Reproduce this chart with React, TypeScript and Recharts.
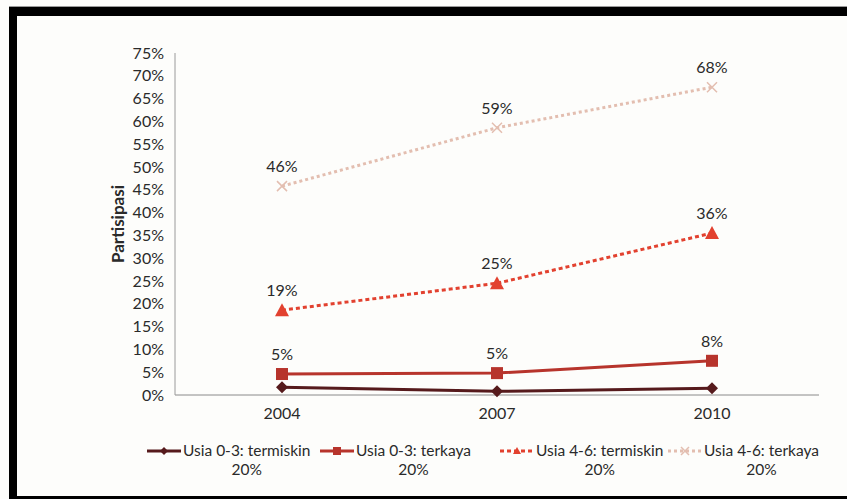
import React from "react";
import { LineChart, Line, XAxis, YAxis, LabelList, Label } from "recharts";

const years = ["2004", "2007", "2010"];
const termiskin03 = [1.7, 0.8, 1.5];
const terkaya03 = [4.6, 4.8, 7.5];
const termiskin46 = [18.6, 24.5, 35.5];
const terkaya46 = [45.8, 58.6, 67.5];
const yTicks = [0, 5, 10, 15, 20, 25, 30, 35, 40, 45, 50, 55, 60, 65, 70, 75];
const seriesNames = [
  "Usia 0-3: termiskin 20%",
  "Usia 0-3: terkaya 20%",
  "Usia 4-6: termiskin 20%",
  "Usia 4-6: terkaya 20%",
];

const data = years.map((y, i) => ({
  year: y,
  a: termiskin03[i],
  b: terkaya03[i],
  c: termiskin46[i],
  d: terkaya46[i],
}));

const FONT = "Lato, 'Open Sans', sans-serif";

const colors = ["#561a1c", "#b7342c", "#e2412f", "#e3beb0"];

const Diamond = ({ cx, cy, fill, s = 6 }: any) => (
  <path d={`M${cx},${cy - s} L${cx + s},${cy} L${cx},${cy + s} L${cx - s},${cy} Z`} fill={fill} />
);
const Square = ({ cx, cy, fill, s = 6 }: any) => <rect x={cx - s} y={cy - s} width={2 * s} height={2 * s} fill={fill} />;
const Triangle = ({ cx, cy, fill, s = 7 }: any) => (
  <path d={`M${cx},${cy - s} L${cx + s},${cy + s - 1} L${cx - s},${cy + s - 1} Z`} fill={fill} />
);
const Cross = ({ cx, cy, fill, s = 5 }: any) => (
  <path d={`M${cx - s},${cy - s} L${cx + s},${cy + s} M${cx + s},${cy - s} L${cx - s},${cy + s}`} stroke={fill} strokeWidth={1.5} />
);

const markers = [Diamond, Square, Triangle, Cross];
const dashes = [undefined, undefined, "4 3", "3 3"];
const legendLefts = [147, 320, 500, 668];

const pct = (v: any) => `${Math.round(Number(v))}%`;

const LegendBlock = () => (
  <div style={{ position: "absolute", left: 0, top: 441, fontFamily: FONT, fontSize: 15.5, color: "#2a2a2a" }}>
    {seriesNames.map((name, i) => {
      const cut = name.lastIndexOf(" ");
      const M = markers[i];
      return (
        <div key={name} style={{ position: "absolute", left: legendLefts[i], top: 0, display: "flex" }}>
          <svg width={34} height={20}>
            <line x1={0} y1={10} x2={34} y2={10} stroke={colors[i]} strokeWidth={3} strokeDasharray={dashes[i]} />
            <M cx={17} cy={10} fill={colors[i]} s={4} />
          </svg>
          <div style={{ textAlign: "center", lineHeight: "19px", marginLeft: 2 }}>
            <div style={{ whiteSpace: "nowrap" }}>{name.slice(0, cut)}</div>
            <div>{name.slice(cut + 1)}</div>
          </div>
        </div>
      );
    })}
  </div>
);

export default function App() {
  const keys = ["a", "b", "c", "d"];
  return (
    <div style={{ position: "absolute", left: 0, top: 0, width: 847, height: 499, background: "#fdfdfb", overflow: "hidden" }}>
      <div style={{ position: "absolute", left: 9, top: 6, width: 838, height: 1, background: "#9a9a9a" }} />
      <div style={{ position: "absolute", left: 9, top: 7, width: 838, height: 9, background: "#000" }} />
      <div style={{ position: "absolute", left: 9, top: 7, width: 8, height: 492, background: "#000" }} />
      <div style={{ position: "absolute", left: 9, top: 496, width: 838, height: 3, background: "#000" }} />
      <div style={{ position: "absolute", left: 0, top: 0 }}>
        <LineChart width={847} height={499} data={data} margin={{ top: 53, right: 28, bottom: 74, left: 0 }}>
          <XAxis
            dataKey="year"
            tickLine={false}
            tickSize={0}
            tickMargin={13}
            padding={{ left: 107, right: 107 }}
            axisLine={{ stroke: "#8a8a8a", strokeWidth: 1 }}
            tick={{ fontFamily: FONT, fontSize: 16, fill: "#2a2a2a" }}
            height={30}
          />
          <YAxis
            domain={[0, 75]}
            ticks={yTicks}
            interval={0}
            tickFormatter={(v) => `${v}%`}
            tickLine={false}
            tickSize={0}
            tickMargin={11}
            width={175}
            axisLine={{ stroke: "#9a9a9a", strokeWidth: 1 }}
            tick={{ fontFamily: FONT, fontSize: 16, fill: "#2a2a2a" }}
          >
            <Label
              value="Partisipasi"
              angle={-90}
              position="insideLeft"
              offset={118}
              style={{ fontFamily: FONT, fontSize: 17, fontWeight: 700, fill: "#2a2a2a", textAnchor: "middle" }}
            />
          </YAxis>
          {keys.map((k, i) => {
            const M = markers[i];
            return (
              <Line
                key={k}
                dataKey={k}
                name={seriesNames[i]}
                stroke={colors[i]}
                strokeWidth={3}
                strokeDasharray={dashes[i]}
                dot={(p: any) => <M key={p.index} cx={p.cx} cy={p.cy} fill={colors[i]} />}
                activeDot={false}
                isAnimationActive={false}
              >
                {i > 0 && (
                  <LabelList
                    dataKey={k}
                    position="top"
                    offset={14}
                    formatter={pct}
                    style={{ fontFamily: FONT, fontSize: 16, fill: "#2a2a2a" }}
                  />
                )}
              </Line>
            );
          })}
        </LineChart>
      </div>
      <LegendBlock />
    </div>
  );
}
